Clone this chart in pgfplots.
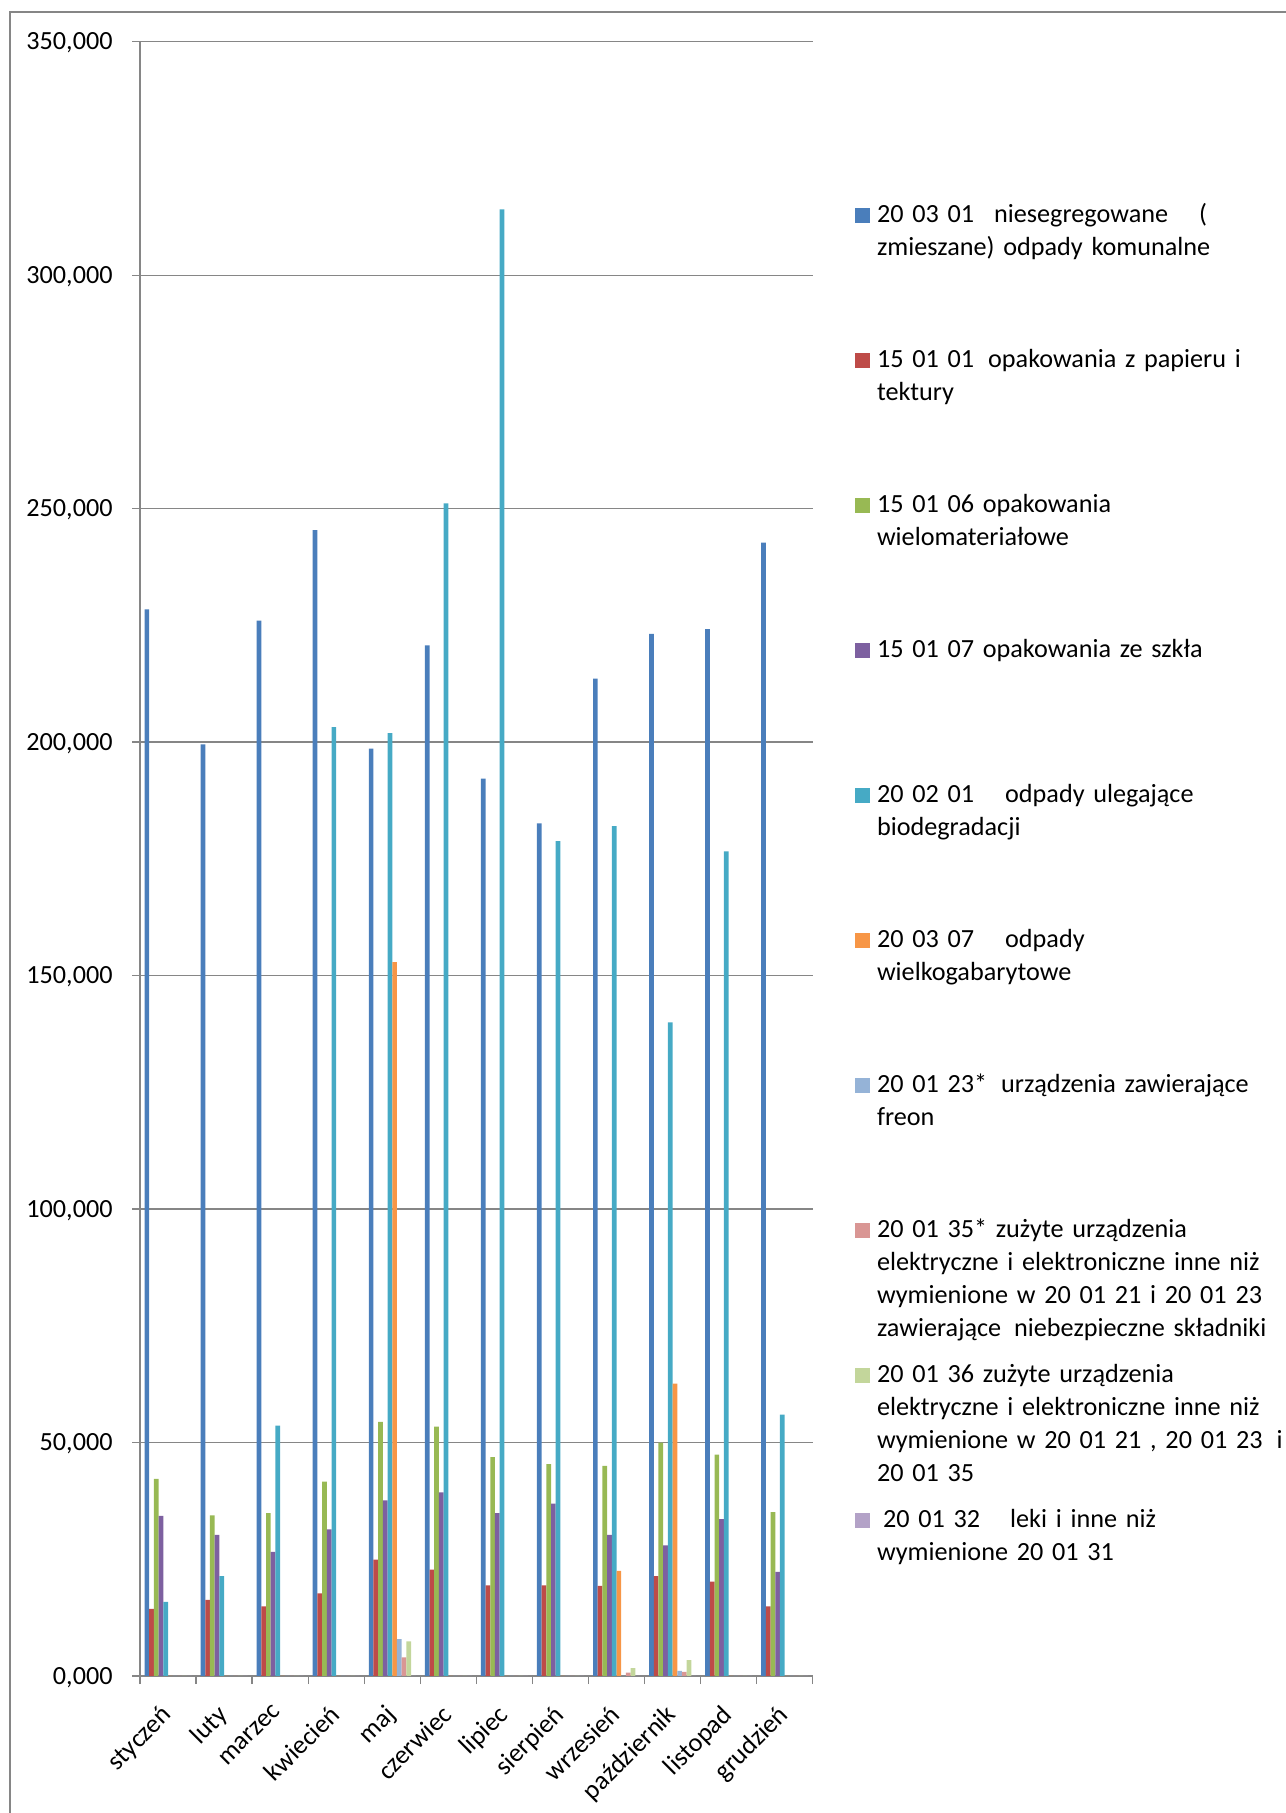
\documentclass[border=0pt]{standalone}
\usepackage{pgfplots}
\pgfplotsset{compat=1.18}
\usepackage{pgfplotstable}
\usepackage{fontspec}
\setmainfont{Carlito}

\definecolor{sA}{RGB}{74,126,187}
\definecolor{sB}{RGB}{190,75,72}
\definecolor{sC}{RGB}{152,185,84}
\definecolor{sD}{RGB}{125,96,160}
\definecolor{sE}{RGB}{70,170,197}
\definecolor{sF}{RGB}{247,150,70}
\definecolor{sG}{RGB}{149,179,215}
\definecolor{sH}{RGB}{217,150,148}
\definecolor{sI}{RGB}{195,214,155}
\definecolor{sJ}{RGB}{179,162,199}
\definecolor{axgray}{RGB}{134,134,134}

% odpady w Mg, miesiace 0..11
\pgfplotstableread{
x a b c d e f g h i j
0 228.4 14.4 42.2 34.3 15.9 0 0 0 0 0
1 199.5 16.3 34.4 30.2 21.4 0 0 0 0 0
2 226.0 14.9 34.9 26.6 53.6 0 0 0 0 0
3 245.4 17.7 41.6 31.4 203.2 0 0 0 0 0
4 198.6 24.9 54.4 37.6 201.9 152.9 7.9 4.0 7.4 0
5 220.7 22.8 53.4 39.3 251.1 0 0 0 0 0
6 192.2 19.4 46.9 34.9 314.1 0 0 0 0 0
7 182.6 19.4 45.4 36.9 178.8 0 0 0 0 0
8 213.6 19.3 45.0 30.2 182.0 22.5 0 0.7 1.7 0
9 223.2 21.4 50.0 28.0 140.0 62.6 1.1 0.9 3.4 0
10 224.2 20.2 47.4 33.6 176.6 0 0 0 0 0
11 242.7 14.9 35.1 22.3 56.0 0 0 0 0 0
}\odpady

\begin{document}
\fontsize{13.1}{16.5}\selectfont
\begin{tikzpicture}
\useasboundingbox (0,0) rectangle (642.5pt,906.5pt);
\draw[axgray, line width=0.65pt] (5pt,-5pt) -- (5pt,900.5pt) -- (650pt,900.5pt);
\begin{axis}[
    at={(70pt,68.5pt)}, anchor=south west,
    scale only axis,
    width=336.35pt, height=817.15pt,
    xmin=-0.5, xmax=11.5,
    ymin=0, ymax=350,
    ybar=0pt, bar width=2.35pt,
    axis x line*=bottom, axis y line*=left,
    axis line style={axgray, line width=0.65pt, -},
    tick style={axgray, line width=0.65pt},
    tick align=outside, major tick length=4pt,
    xtick={-0.5,0.5,...,11.5},
    x tick label as interval,
    xticklabels={styczeń,luty,marzec,kwiecień,maj,czerwiec,lipiec,sierpień,wrzesień,październik,listopad,grudzień},
    xticklabel style={xshift=-4pt, yshift=-9.5pt, rotate=45, anchor=north east, inner sep=0pt, font=\fontsize{13.1}{15}\selectfont},
    ytick={0,50,...,350},
    yticklabel style={anchor=base east, inner sep=0pt, xshift=-9.5pt, yshift=-4.1pt, font=\fontsize{13.1}{15}\selectfont},
    /pgf/number format/.cd, fixed, fixed zerofill, precision=3, use comma, assume math mode=true, /pgfplots/.cd,
    ymajorgrids=true,
    grid style={axgray, line width=0.65pt},
    legend image code/.code={\fill[#1] (0pt,0pt) rectangle (7.4pt,7.4pt);},
    legend style={
        draw=none, fill=none,
        at={(1.06288,0.90026)}, anchor=north west,
        inner sep=0pt, outer sep=0pt,
        row sep=0pt, column sep=3.6pt,
        cells={anchor=base west},
        nodes={inner sep=0pt, text width=215pt, align=left,
               text height=9pt, text depth=63.5pt,
               font=\fontsize{13.1}{16.5}\selectfont},
    },
]
\addplot[fill=sA, draw=none] table[x=x, y=a] {\odpady};
\addlegendentry{20 03 01\hspace*{10pt}niesegregowane\hspace*{15.5pt}(\\zmieszane) odpady komunalne}
\addplot[fill=sB, draw=none] table[x=x, y=b] {\odpady};
\addlegendentry{15 01 01\hspace*{7pt}opakowania z papieru i\\tektury}
\addplot[fill=sC, draw=none] table[x=x, y=c] {\odpady};
\addlegendentry{15 01 06 opakowania\\wielomateriałowe}
\addplot[fill=sD, draw=none] table[x=x, y=d] {\odpady};
\addlegendentry{15 01 07 opakowania ze szkła}
\addplot[fill=sE, draw=none] table[x=x, y=e] {\odpady};
\addlegendentry{20 02 01\hspace*{15.5pt}odpady ulegające\\biodegradacji}
\addplot[fill=sF, draw=none] table[x=x, y=f] {\odpady};
\addlegendentry{20 03 07\hspace*{15.5pt}odpady\\wielkogabarytowe}
\addplot[fill=sG, draw=none] table[x=x, y=g] {\odpady};
\addlegendentry{20 01 23*\hspace*{7pt}urządzenia zawierające\\freon}
\addplot[fill=sH, draw=none] table[x=x, y=h] {\odpady};
\addlegendentry{20 01 35* zużyte urządzenia\\elektryczne i elektroniczne inne niż\\wymienione w 20 01 21 i 20 01 23\\zawierające\hspace*{6.5pt}niebezpieczne składniki}
\addplot[fill=sI, draw=none] table[x=x, y=i] {\odpady};
\addlegendentry{20 01 36 zużyte urządzenia\\elektryczne i elektroniczne inne niż\\wymienione w 20 01 21 , 20 01 23\hspace*{7pt}i\\20 01 35}
\addplot[fill=sJ, draw=none] table[x=x, y=j] {\odpady};
\addlegendentry{\hspace*{3pt}20 01 32\hspace*{15pt}leki i inne niż\\wymienione 20 01 31}
\end{axis}
\end{tikzpicture}
\end{document}
